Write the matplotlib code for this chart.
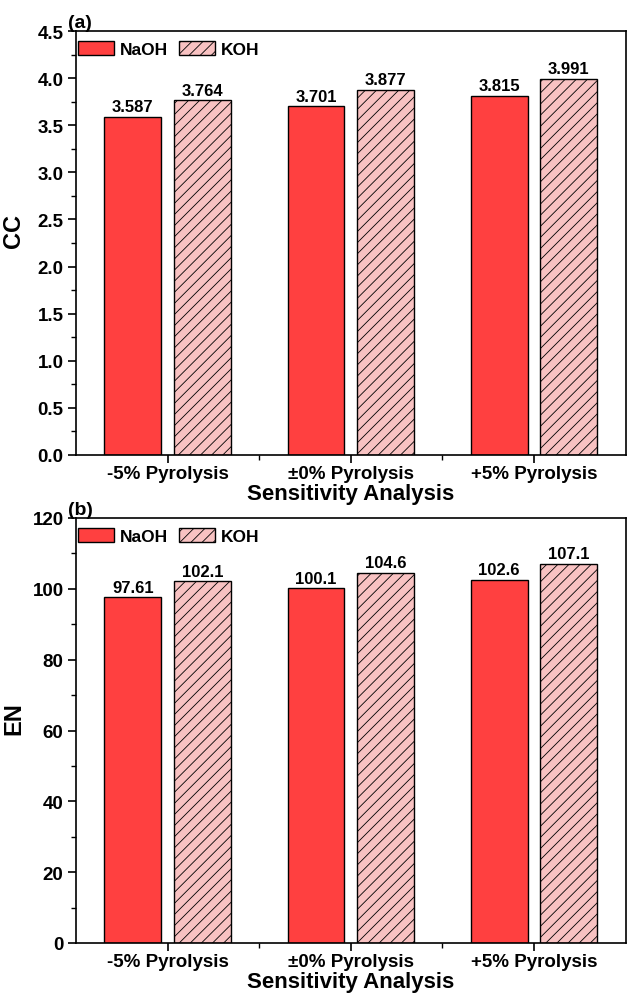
# -*- coding: utf-8 -*-
"""
Sensitivity analysis bars: CC and EN for NaOH / KOH activation.
"""

import numpy as np
import matplotlib
matplotlib.use('Agg')
import matplotlib.pyplot as plt
from matplotlib.ticker import MultipleLocator, FixedLocator

# Data
categories = ['-5% Pyrolysis', '\u00b10% Pyrolysis', '+5% Pyrolysis']
cc_naoh = [3.587, 3.701, 3.815]
cc_koh = [3.764, 3.877, 3.991]
en_naoh = [97.61, 100.1, 102.6]
en_koh = [102.1, 104.6, 107.1]

plt.rcParams['font.family'] = ['Liberation Sans', 'DejaVu Sans']
plt.rcParams['font.weight'] = 'bold'
plt.rcParams['axes.labelweight'] = 'bold'
plt.rcParams['hatch.linewidth'] = 0.6

red = '#FF4040'
pink = '#F8C2C2'

W, H = 627, 995
fig = plt.figure(figsize=(W/100, H/100), dpi=100)

left = 76/W
right = 625.5/W
panels = [
    # (top px, bottom px, naoh, koh, ylabel, ymax, major, tag)
    (32, 456, cc_naoh, cc_koh, 'CC', 4.5, 0.5, '(a)'),
    (519, 944, en_naoh, en_koh, 'EN', 120, 20, '(b)'),
]

x = np.arange(len(categories))
w = 0.31
off = 0.19

for top, bot, naoh, koh, ylab, ymax, major, tag in panels:
    ax = fig.add_axes([left, 1 - bot/H, right - left, (bot - top)/H])
    b1 = ax.bar(x - off, naoh, w, color=red, edgecolor='black',
                linewidth=1.0, label='NaOH')
    b2 = ax.bar(x + off, koh, w, color=pink, edgecolor='black',
                linewidth=1.0, hatch='///', label='KOH')
    ax.bar_label(b1, fmt='{:.4g}', padding=2, fontsize=12, fontweight='bold')
    ax.bar_label(b2, fmt='{:.4g}', padding=2, fontsize=12, fontweight='bold')

    ax.set_xlim(-0.5, 2.5)
    ax.set_ylim(0, ymax)
    ax.yaxis.set_major_locator(MultipleLocator(major))
    ax.yaxis.set_minor_locator(MultipleLocator(major/2))
    ax.set_xticks(x)
    ax.set_xticklabels(categories)
    ax.xaxis.set_minor_locator(FixedLocator([0.5, 1.5]))
    if major < 1:
        ax.yaxis.set_major_formatter(plt.FuncFormatter(lambda v, p: '%.1f' % v))

    ax.tick_params(which='major', direction='out', length=6, width=1.2,
                   labelsize=13.5, top=False, right=False, pad=3)
    ax.tick_params(axis='x', which='major', pad=1.5)
    ax.tick_params(which='minor', direction='out', length=3.5, width=1.0,
                   top=False, right=False)
    for s in ax.spines.values():
        s.set_linewidth(1.2)

    ax.set_xlabel('Sensitivity Analysis', fontsize=16, labelpad=0.5)
    ax.set_ylabel(ylab, fontsize=17)
    ax.yaxis.set_label_coords(-0.092, 0.53)

    ax.text(-0.015, 1.0, tag, transform=ax.transAxes, fontsize=14,
            fontweight='bold', ha='left', va='bottom')

    ax.legend(loc='upper left', bbox_to_anchor=(0.003, 0.977), ncol=2,
              frameon=False, fontsize=12.5, handlelength=2.1, handleheight=0.9,
              handletextpad=0.35, columnspacing=0.6, borderpad=0,
              borderaxespad=0)

plt.savefig('out.png', dpi=100)
